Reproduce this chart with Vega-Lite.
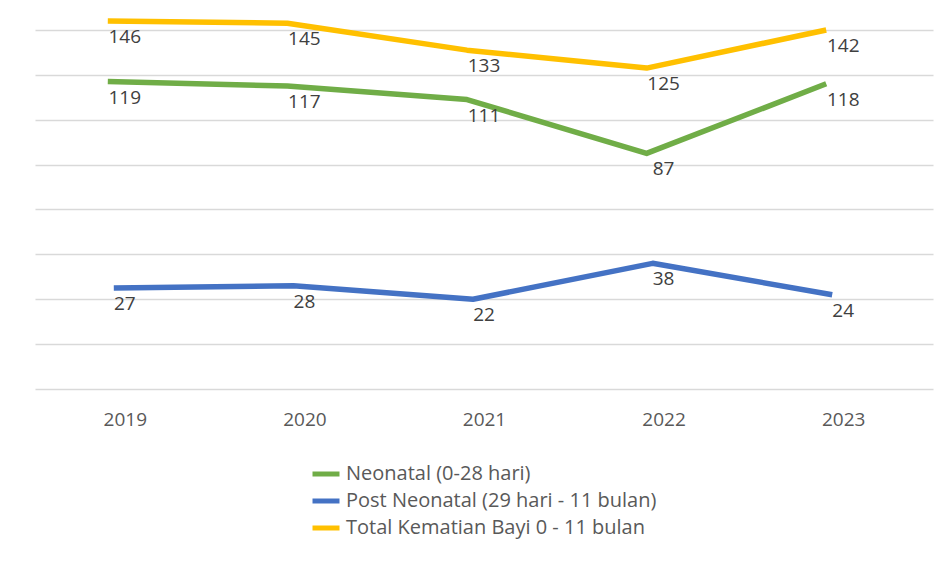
{
  "$schema": "https://vega.github.io/schema/vega-lite/v6.json",
  "width": 898,
  "height": 377,
  "autosize": "none",
  "padding": {"left": 35, "top": 12, "right": 15, "bottom": 172},
  "background": "white",
  "config": {
    "view": {"stroke": null},
    "font": "Open Sans"
  },
  "data": {
    "values": [
      {"year": "2019", "series": "Neonatal (0-28 hari)", "value": 119},
      {"year": "2020", "series": "Neonatal (0-28 hari)", "value": 117},
      {"year": "2021", "series": "Neonatal (0-28 hari)", "value": 111},
      {"year": "2022", "series": "Neonatal (0-28 hari)", "value": 87},
      {"year": "2023", "series": "Neonatal (0-28 hari)", "value": 118},
      {"year": "2019", "series": "Post Neonatal (29 hari - 11 bulan)", "value": 27},
      {"year": "2020", "series": "Post Neonatal (29 hari - 11 bulan)", "value": 28},
      {"year": "2021", "series": "Post Neonatal (29 hari - 11 bulan)", "value": 22},
      {"year": "2022", "series": "Post Neonatal (29 hari - 11 bulan)", "value": 38},
      {"year": "2023", "series": "Post Neonatal (29 hari - 11 bulan)", "value": 24},
      {"year": "2019", "series": "Total Kematian Bayi 0 - 11 bulan", "value": 146},
      {"year": "2020", "series": "Total Kematian Bayi 0 - 11 bulan", "value": 145},
      {"year": "2021", "series": "Total Kematian Bayi 0 - 11 bulan", "value": 133},
      {"year": "2022", "series": "Total Kematian Bayi 0 - 11 bulan", "value": 125},
      {"year": "2023", "series": "Total Kematian Bayi 0 - 11 bulan", "value": 142}
    ]
  },
  "encoding": {
    "x": {
      "field": "year", "type": "ordinal",
      "scale": {"type": "point", "padding": 0.5},
      "axis": {
        "title": null, "labelAngle": 0, "ticks": false, "tickSize": 0, "domain": false, "grid": false,
        "labelFontSize": 19, "labelColor": "#595959", "labelBaseline": "middle", "labelPadding": 30
      }
    },
    "y": {
      "field": "value", "type": "quantitative",
      "scale": {"domain": [-18, 150], "nice": false, "zero": false},
      "axis": {
        "title": null, "labels": false, "ticks": false, "domain": false,
        "values": [-18, 2, 22, 42, 62, 82, 102, 122, 142],
        "gridColor": "#d9d9d9", "gridWidth": 1.5, "gridOpacity": 1
      }
    }
  },
  "layer": [
    {
      "transform": [{"filter": "datum.series !== 'Post Neonatal (29 hari - 11 bulan)'"}],
      "mark": {"type": "line", "strokeWidth": 5.5, "xOffset": -17, "strokeJoin": "round"},
      "encoding": {
        "color": {
          "field": "series", "type": "nominal",
          "scale": {
            "domain": ["Neonatal (0-28 hari)", "Post Neonatal (29 hari - 11 bulan)", "Total Kematian Bayi 0 - 11 bulan"],
            "range": ["#70ad47", "#4472c4", "#ffc000"]
          },
          "legend": {
            "title": null, "orient": "none", "legendX": 275, "legendY": 446,
            "direction": "vertical", "symbolType": "stroke", "symbolSize": 729, "symbolStrokeWidth": 5,
            "labelFontSize": 20, "labelColor": "#595959", "labelOffset": 4, "rowPadding": 1, "padding": 0,
            "labelLimit": 0
          }
        }
      }
    },
    {
      "transform": [{"filter": "datum.series === 'Post Neonatal (29 hari - 11 bulan)'"}],
      "mark": {"type": "line", "strokeWidth": 5.5, "xOffset": -11, "strokeJoin": "round"},
      "encoding": {
        "color": {"field": "series", "type": "nominal"}
      }
    },
    {
      "mark": {"type": "text", "fontSize": 19, "color": "#404040", "dy": 16, "baseline": "middle"},
      "encoding": {
        "text": {"field": "value", "type": "quantitative"}
      }
    }
  ]
}
